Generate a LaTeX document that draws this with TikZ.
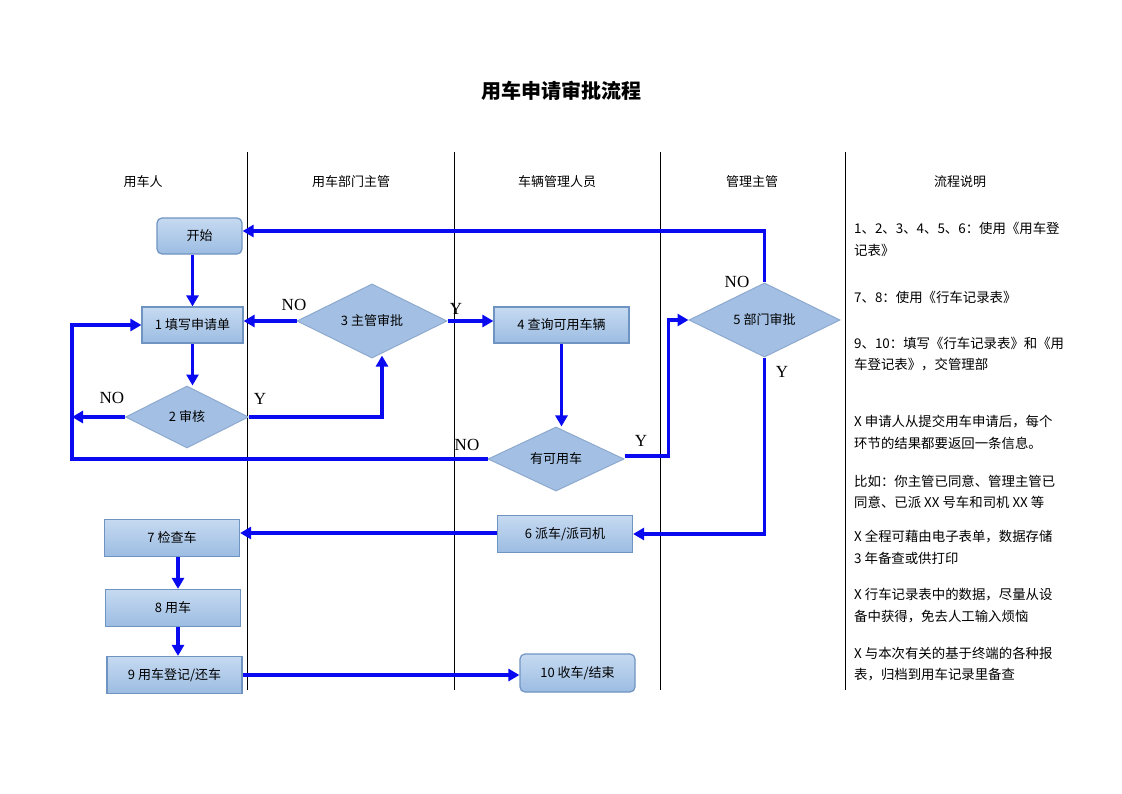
\documentclass[tikz,border=0pt]{standalone}
\usepackage{fontspec}
\setmainfont{Noto Sans CJK SC}
\newfontfamily\latinfont{Liberation Serif}
\usetikzlibrary{arrows.meta,shapes.geometric}

\definecolor{boxtop}{HTML}{C6DAF1}
\definecolor{boxbot}{HTML}{9CBCE2}
\definecolor{boxline}{HTML}{7094C2}
\definecolor{diafill}{HTML}{A3C0E4}
\definecolor{flowblue}{HTML}{0A0AF0}

\begin{document}
\begin{tikzpicture}[x=1pt,y=-1pt,>={Triangle[length=11pt,width=12pt]},
    font=\fontsize{13}{16}\selectfont,
    box/.style={draw=boxline,line width=1.2pt,top color=boxtop,bottom color=boxbot,
      minimum width=135pt,minimum height=37pt,inner sep=0pt},
    startbox/.style={box,rounded corners=5pt},
    decision/.style={diamond,draw=boxline!80,line width=1pt,fill=diafill,inner sep=0pt,
      minimum width=150pt,minimum height=55pt},
    flow/.style={->,draw=flowblue,line width=3.6pt},
    yn/.style={font=\latinfont\fontsize{17}{17}\selectfont},
    note/.style={anchor=west,inner sep=0pt,font=\fontsize{13.4}{16}\selectfont}]
  \useasboundingbox[fill=white] (0,0) rectangle (1122,793);

  % title and lanes
  \node[font=\bfseries\fontsize{20}{24}\selectfont] (title) at (561,91) {用车申请审批流程};
  \foreach \x in {247,454,660,845}
    \draw[line width=1pt] (\x,152) -- (\x,690);
  \node (h1) at (143,182) {用车人};
  \node (h2) at (351,182) {用车部门主管};
  \node (h3) at (557,182) {车辆管理人员};
  \node (h4) at (752,182) {管理主管};
  \node (h5) at (960,182) {流程说明};

  % steps
  \node[startbox,minimum width=85pt,minimum height=36pt] (start) at (199.5,236) {开始};
  \node[box,minimum width=101pt,minimum height=36pt] (n1) at (192.5,325) {1 填写申请单};
  \node[decision,minimum width=123pt,minimum height=62pt] (n2) at (187,417) {2 审核};
  \node[decision] (n3) at (372,321) {3 主管审批};
  \node[box,minimum height=36pt] (n4) at (561.5,325) {4 查询可用车辆};
  \node[decision,minimum width=136pt,minimum height=54pt] (avail) at (556,459) {有可用车};
  \node[decision,minimum width=151pt] (n5) at (764.5,320) {5 部门审批};
  \node[box] (n6) at (565,534) {6 派车/派司机};
  \node[box] (n7) at (172,538) {7 检查车};
  \node[box] (n8) at (173,608) {8 用车};
  \node[box] (n9) at (174.5,675) {9 用车登记/还车};
  \node[startbox,minimum width=115pt,minimum height=38pt] (n10) at (577.5,673) {10 收车/结束};

  \coordinate (loop) at (72,459);
  \coordinate (down) at (178,0);

  % connectors
  \draw[flow] (n5.north) |- ([yshift=5pt]start.east);
  \draw[flow] (start.south -| n1.north) -- (n1.north);
  \draw[flow] (n1.south) -- (n1.south |- n2.north);
  \draw[flow] (n2.east) -| ([xshift=10pt,yshift=3pt]n3.south);
  \draw[flow] (n3.west) -- (n3.west -| n1.east);
  \draw[flow] (n3.east) -- (n3.east -| n4.west);
  \draw[flow] (n2.west) -- (n2.west -| loop);
  \draw[flow] (avail.west) -- (loop) |- (n1.west);
  \draw[flow] (n4.south) -- (n4.south |- avail.north);
  \draw[flow] ([yshift=3pt]avail.east) -- ++(44,0) |- (n5.west);
  \draw[flow] (n5.south) |- (n6.east);
  \draw[flow] ([yshift=1pt]n6.west) -- ([yshift=1pt]n6.west -| n7.east);
  \draw[flow] (n7.south -| down) -- (n8.north -| down);
  \draw[flow] (n8.south -| down) -- (n9.north -| down);
  \draw[flow] (n9.east) -- (n9.east -| n10.west);

  % yes / no
  \node[yn] (no3) at (294,305) {NO};
  \node[yn] (y3) at (456,309) {Y};
  \node[yn] (no2) at (112,398) {NO};
  \node[yn] (y2) at (260,399) {Y};
  \node[yn] (noa) at (467,445) {NO};
  \node[yn] (ya) at (641,441) {Y};
  \node[yn] (no5) at (737,282) {NO};
  \node[yn] (y5) at (782,372) {Y};

  % notes
  \foreach \y/\t [count=\i] in {228/{1、2、3、4、5、6：使用《用车登},250/{记表》},
      297/{7、8：使用《行车记录表》},
      343/{9、10：填写《行车记录表》和《用},365/{车登记表》，交管理部},
      422/{X\ 申请人从提交用车申请后，每个},443/{环节的结果都要返回一条信息。},
      481/{比如：你主管已同意、管理主管已},502/{同意、已派 XX 号车和司机 XX 等},
      537/{X\ 全程可藉由电子表单，数据存储},558/{3 年备查或供打印},
      595/{X\ 行车记录表中的数据，尽量从设},617/{备中获得，免去人工输入烦恼},
      653/{X\ 与本次有关的基于终端的各种报},675/{表，归档到用车记录里备查}}
    \node[note] (note\i) at (854,\y) {\t};
\end{tikzpicture}
\end{document}
